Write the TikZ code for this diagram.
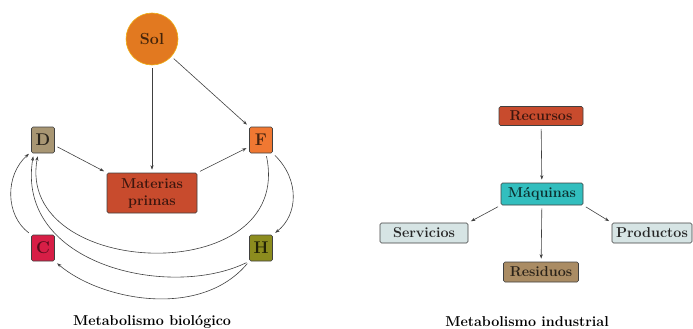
\documentclass[tikz,border=0pt]{standalone}
\usetikzlibrary{arrows.meta}
\definecolor{solc}{RGB}{226,121,32}
\definecolor{dc}{RGB}{168,150,115}
\definecolor{fc}{RGB}{240,120,50}
\definecolor{cc}{RGB}{215,30,70}
\definecolor{hc}{RGB}{140,140,30}
\definecolor{mpc}{RGB}{200,75,45}
\definecolor{maqc}{RGB}{50,190,190}
\definecolor{servc}{RGB}{214,228,228}
\definecolor{resc}{RGB}{170,140,100}
\tikzset{
  bx/.style={draw=black!75, line width=0.6pt, rounded corners=1.5pt, inner sep=1pt,
    font=\fontsize{14.3}{17}\selectfont\bfseries, align=center},
  lett/.style={bx, minimum width=23pt, minimum height=26pt, font=\fontsize{17}{20}\selectfont\bfseries},
  conn/.style={draw=black!75, line width=0.6pt, -{Stealth[length=4.5pt,width=3.2pt]}, shorten >=3pt, shorten <=3pt},
  ttl/.style={font=\fontsize{14.3}{16}\selectfont\bfseries}
}
\begin{document}
\begin{tikzpicture}[x=1pt,y=-1pt]
\useasboundingbox (0,0) rectangle (693,329);
% left diagram
\node[circle, fill=solc, draw=solc!60!yellow, line width=0.6pt, minimum size=52pt, inner sep=0pt,
  font=\fontsize{16}{18}\selectfont\bfseries, text=solc!30!black] (sol) at (152,39) {Sol};
\node[lett, fill=dc, text=dc!25!black] (d) at (43,140) {D};
\node[lett, fill=fc, text=fc!30!black] (f) at (261,140) {F};
\node[lett, fill=cc, text=cc!40!black] (c) at (43,248) {C};
\node[lett, fill=hc, text=hc!25!black] (h) at (261,248) {H};
\node[bx, fill=mpc, text=mpc!30!black, minimum width=90pt, minimum height=40pt] (mp) at (152,193) {Materias\\primas};
\node[ttl] (t1) at (152,322) {Metabolismo biológico};

\draw[conn] (sol) -- (mp);
\draw[conn] (sol) -- (f.north west);
\draw[conn] (d.-25) -- (mp.north west);
\draw[conn] (mp.north east) -- (f.210);
\draw[conn] (f.south east) .. controls (300,180) and (298,215) .. (h.north east);
\draw[conn] (f.-70) .. controls (295,290) and (15,280) .. (d.250);
\draw[conn] (h.south west) .. controls (170,300) and (15,265) .. (d.235);
\draw[conn] (h.south west) .. controls (200,320) and (100,300) .. (c.south east);
\draw[conn] (c.north west) .. controls (5,215) and (5,175) .. (d.225);

% right diagram
\node[bx, fill=mpc, text=mpc!30!black, minimum width=84pt, minimum height=19pt] (rec) at (541,116) {Recursos};
\node[bx, fill=maqc, text=maqc!25!black, minimum width=82pt, minimum height=22pt] (maq) at (542,194) {Máquinas};
\node[bx, fill=servc, text=black!85, minimum width=88pt, minimum height=20pt] (serv) at (424,233) {Servicios};
\node[bx, fill=servc, text=black!85, minimum width=80pt, minimum height=20pt] (prod) at (652,233) {Productos};
\node[bx, fill=resc, text=resc!25!black, minimum width=75pt, minimum height=20pt] (res) at (541,272) {Residuos};
\node[ttl] (t2) at (527,322) {Metabolismo industrial};

\draw[conn] (rec) -- (maq);
\draw[conn] (maq.south west) -- (serv.north east);
\draw[conn] (maq.south east) -- (prod.north west);
\draw[conn] (maq) -- (res);
\end{tikzpicture}
\end{document}
